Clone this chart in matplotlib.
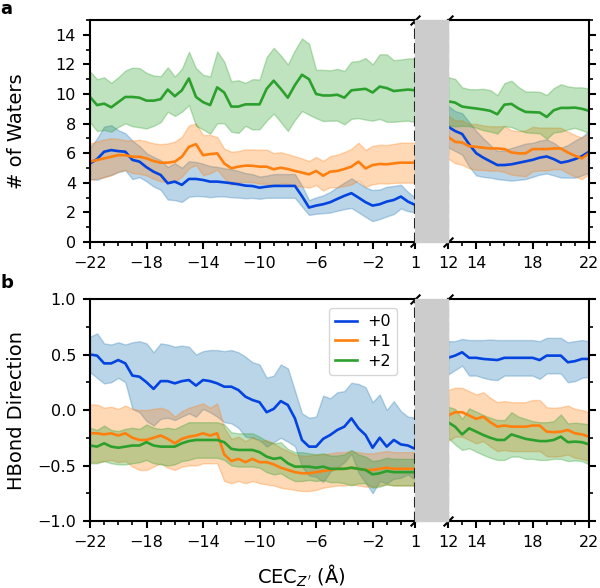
import matplotlib
matplotlib.use("Agg")
import matplotlib.pyplot as plt
import numpy as np
from matplotlib.patches import Rectangle
from matplotlib.ticker import MultipleLocator

# x positions (0.5 A spacing)
xLeft = np.arange(-22, 1.01, 0.5)
xRight = np.arange(12, 22.01, 0.5)
labels = ["+0", "+1", "+2"]

# panel a: number of waters (mean, sd)
watersLeftMean = [
    [5.31, 5.6, 6.1, 6.21, 6.14, 6.1, 5.55, 5.43, 5.05, 4.75, 4.53, 3.97, 4.08, 3.86, 4.26, 4.26,
     4.19, 4.08, 4.08, 4.03, 3.97, 3.9, 3.81, 3.78, 3.67, 3.74, 3.79, 3.79, 3.79, 3.79, 3.1, 2.33,
     2.46, 2.55, 2.69, 2.91, 3.12, 3.3, 3.0, 2.69, 2.46, 2.55, 2.73, 2.84, 3.07, 2.73, 2.51],
    [5.43, 5.54, 5.65, 5.76, 5.87, 5.87, 5.76, 5.76, 5.65, 5.47, 5.36, 5.36, 5.43, 5.76, 6.43, 6.61,
     5.87, 5.94, 5.99, 5.31, 4.98, 5.09, 5.16, 5.15, 5.09, 5.09, 4.91, 5.02, 4.93, 4.8, 4.69, 4.57,
     4.8, 4.48, 4.75, 4.8, 4.93, 5.09, 5.43, 4.97, 5.2, 5.27, 5.25, 5.31, 5.36, 5.36, 5.36],
    [9.8, 9.25, 9.35, 9.1, 9.45, 9.8, 9.8, 9.75, 9.55, 9.55, 9.65, 10.3, 9.85, 10.25, 11.05, 9.8,
     9.45, 9.25, 10.45, 10.1, 9.15, 9.15, 9.3, 9.3, 9.3, 10.35, 10.9, 10.35, 9.75, 10.6, 11.3, 11.0,
     10.0, 9.9, 9.9, 9.95, 9.75, 10.25, 10.3, 10.35, 10.1, 10.5, 10.4, 10.2, 10.25, 10.3, 10.25],
]
watersLeftSd = [
    [1.05, 1.4, 1.7, 1.68, 1.42, 1.25, 1.3, 1.05, 0.95, 1.0, 1.0, 1.1, 1.25, 1.15, 1.2, 1.15,
     1.1, 1.05, 1.0, 0.95, 0.95, 0.9, 0.85, 0.8, 0.75, 0.75, 0.8, 0.8, 0.8, 0.8, 0.7, 0.5,
     0.55, 0.6, 0.7, 0.8, 0.9, 1.0, 1.0, 1.0, 1.05, 1.0, 1.0, 0.95, 0.8, 0.65, 0.5],
    [1.23, 1.25, 1.28, 1.25, 1.1, 1.0, 1.1, 1.15, 1.15, 1.2, 1.25, 1.3, 1.35, 1.35, 1.45, 1.4,
     1.35, 1.3, 1.1, 1.0, 1.12, 1.05, 1.1, 1.1, 1.15, 1.15, 1.1, 1.05, 1.0, 1.0, 0.95, 0.9,
     0.95, 1.0, 1.05, 1.1, 1.15, 1.2, 1.28, 1.25, 1.3, 1.3, 1.3, 1.32, 1.35, 1.35, 1.35],
    [1.72, 1.75, 1.78, 1.65, 1.68, 1.78, 1.98, 2.0, 1.88, 1.7, 1.55, 1.5, 1.33, 1.45, 1.8, 1.95,
     1.85, 1.93, 2.43, 2.08, 1.7, 1.78, 1.45, 1.7, 1.68, 2.15, 2.22, 2.25, 2.25, 2.35, 2.45, 2.4,
     1.63, 1.73, 1.7, 1.75, 1.8, 1.93, 1.93, 2.08, 1.9, 2.18, 2.28, 2.08, 2.08, 2.1, 2.15],
]
watersRightMean = [
    [7.8, 7.5, 7.3, 6.6, 6.0, 5.7, 5.45, 5.2, 5.2, 5.25, 5.35, 5.45, 5.55, 5.7, 5.78, 5.6, 5.36,
     5.45, 5.6, 5.8, 6.1],
    [7.11, 6.77, 6.72, 6.48, 6.43, 6.37, 6.32, 6.32, 6.28, 6.05, 5.99, 5.99, 6.28, 6.28, 6.28,
     6.32, 6.32, 6.05, 5.83, 5.65, 5.99],
    [9.51, 9.42, 9.15, 9.08, 9.02, 8.95, 8.86, 8.63, 9.28, 9.33, 9.02, 8.79, 8.77, 8.75, 8.45,
     8.9, 9.06, 9.06, 9.08, 9.0, 8.86],
]
watersRightSd = [
    [1.4, 1.35, 1.4, 1.5, 1.5, 1.3, 1.1, 0.95, 1.0, 1.1, 1.15, 1.2, 1.15, 1.15, 1.15, 1.1, 1.0,
     1.1, 1.25, 1.3, 1.4],
    [1.45, 1.45, 1.5, 1.5, 1.55, 1.5, 1.5, 1.5, 1.55, 1.5, 1.5, 1.55, 1.5, 1.45, 1.45, 1.4, 1.4,
     1.4, 1.4, 1.4, 1.38],
    [1.63, 1.6, 1.3, 1.25, 1.3, 1.4, 1.4, 1.3, 1.45, 1.57, 1.45, 1.38, 1.4, 1.4, 1.48, 1.5, 1.6,
     1.45, 1.37, 1.45, 1.5],
]

# panel b: hbond direction (mean, sd)
hbondLeftMean = [
    [0.5, 0.49, 0.42, 0.42, 0.45, 0.42, 0.31, 0.3, 0.25, 0.19, 0.26, 0.26, 0.24, 0.26, 0.27, 0.22,
     0.27, 0.26, 0.24, 0.21, 0.21, 0.18, 0.12, 0.09, 0.07, -0.02, 0.01, 0.08, 0.045, -0.075, -0.27,
     -0.33, -0.33, -0.26, -0.225, -0.18, -0.15, -0.075, -0.165, -0.225, -0.34, -0.25, -0.33, -0.27,
     -0.31, -0.32, -0.35],
    [-0.21, -0.21, -0.22, -0.21, -0.23, -0.21, -0.25, -0.27, -0.27, -0.25, -0.23, -0.26, -0.3,
     -0.26, -0.24, -0.23, -0.21, -0.23, -0.21, -0.4, -0.46, -0.44, -0.47, -0.44, -0.47, -0.47,
     -0.49, -0.52, -0.54, -0.56, -0.57, -0.57, -0.56, -0.55, -0.54, -0.53, -0.53, -0.52, -0.53,
     -0.54, -0.54, -0.53, -0.52, -0.53, -0.53, -0.53, -0.53],
    [-0.32, -0.33, -0.3, -0.33, -0.34, -0.33, -0.32, -0.32, -0.29, -0.32, -0.33, -0.33, -0.33,
     -0.3, -0.28, -0.27, -0.27, -0.27, -0.27, -0.29, -0.35, -0.36, -0.36, -0.36, -0.38, -0.42,
     -0.44, -0.43, -0.48, -0.51, -0.51, -0.51, -0.52, -0.51, -0.53, -0.53, -0.53, -0.52, -0.53,
     -0.54, -0.58, -0.57, -0.55, -0.56, -0.56, -0.56, -0.56],
]
hbondLeftSd = [
    [0.16, 0.2, 0.18, 0.17, 0.16, 0.17, 0.3, 0.32, 0.35, 0.33, 0.34, 0.33, 0.33, 0.32, 0.3, 0.28,
     0.26, 0.28, 0.3, 0.32, 0.33, 0.34, 0.36, 0.34, 0.34, 0.31, 0.3, 0.33, 0.33, 0.25, 0.24, 0.26,
     0.27, 0.39, 0.33, 0.34, 0.32, 0.32, 0.4, 0.43, 0.41, 0.39, 0.33, 0.35, 0.3, 0.26, 0.28],
    [0.26, 0.26, 0.24, 0.24, 0.24, 0.25, 0.26, 0.27, 0.27, 0.26, 0.25, 0.26, 0.24, 0.25, 0.26,
     0.27, 0.27, 0.25, 0.27, 0.24, 0.2, 0.2, 0.19, 0.2, 0.19, 0.2, 0.19, 0.18, 0.17, 0.16, 0.16,
     0.16, 0.16, 0.15, 0.15, 0.15, 0.15, 0.15, 0.15, 0.15, 0.15, 0.15, 0.15, 0.15, 0.15, 0.15, 0.15],
    [0.16, 0.15, 0.16, 0.15, 0.15, 0.16, 0.16, 0.15, 0.16, 0.16, 0.16, 0.17, 0.16, 0.16, 0.17,
     0.16, 0.16, 0.16, 0.16, 0.16, 0.15, 0.15, 0.15, 0.15, 0.14, 0.14, 0.14, 0.14, 0.13, 0.13,
     0.13, 0.12, 0.12, 0.12, 0.12, 0.12, 0.13, 0.16, 0.13, 0.12, 0.12, 0.12, 0.12, 0.12, 0.12,
     0.12, 0.12],
]
hbondRightMean = [
    [0.47, 0.49, 0.52, 0.47, 0.47, 0.46, 0.455, 0.45, 0.47, 0.47, 0.47, 0.47, 0.47, 0.45, 0.49,
     0.49, 0.49, 0.43, 0.44, 0.46, 0.46],
    [-0.05, -0.02, -0.02, -0.05, -0.08, -0.06, -0.11, -0.15, -0.14, -0.15, -0.15, -0.15, -0.14,
     -0.14, -0.195, -0.2, -0.195, -0.18, -0.21, -0.22, -0.24],
    [-0.11, -0.15, -0.22, -0.165, -0.195, -0.225, -0.25, -0.27, -0.27, -0.22, -0.24, -0.26, -0.27,
     -0.28, -0.28, -0.27, -0.24, -0.29, -0.285, -0.29, -0.31],
]
hbondRightSd = [
    [0.15, 0.13, 0.12, 0.16, 0.16, 0.17, 0.18, 0.18, 0.16, 0.16, 0.16, 0.16, 0.16, 0.17, 0.16,
     0.16, 0.16, 0.18, 0.18, 0.17, 0.16],
    [0.23, 0.22, 0.22, 0.22, 0.22, 0.22, 0.22, 0.22, 0.22, 0.22, 0.22, 0.22, 0.23, 0.23, 0.22,
     0.22, 0.22, 0.22, 0.22, 0.22, 0.22],
    [0.14, 0.16, 0.14, 0.18, 0.18, 0.18, 0.18, 0.18, 0.18, 0.2, 0.18, 0.18, 0.17, 0.17, 0.17,
     0.17, 0.2, 0.17, 0.17, 0.17, 0.18],
]

lineColors = ["#0343df", "#ff7f0e", "#2ca02c"]
bandColors = ["#1f77b4", "#ff7f0e", "#2ca02c"]

plt.rcParams["font.size"] = 11.5
plt.rcParams["axes.linewidth"] = 1.5
plt.rcParams["xtick.major.width"] = 1.5
plt.rcParams["ytick.major.width"] = 1.5
plt.rcParams["xtick.minor.width"] = 1.2
plt.rcParams["ytick.minor.width"] = 1.2
plt.rcParams["xtick.major.size"] = 5
plt.rcParams["ytick.major.size"] = 5
plt.rcParams["xtick.minor.size"] = 3
plt.rcParams["ytick.minor.size"] = 3
plt.rcParams["xtick.major.pad"] = 5
plt.rcParams["ytick.major.pad"] = 5

fig = plt.figure(figsize=(6, 5.88), dpi=100)

W, H = 600, 588
def axRect(x0, x1, y0, y1):
    return [x0 / W, 1 - y1 / H, (x1 - x0) / W, (y1 - y0) / H]

rows = [(20, 242), (299, 521)]
leftX = (90, 415)
rightX = (448, 589)


def drawSeries(ax, x, means, sds):
    for i in range(3):
        m = np.array(means[i])
        s = np.array(sds[i])
        ax.plot(x, m, color=lineColors[i], lw=1.9, label=labels[i])
        ax.fill_between(x, m - s, m + s, color=bandColors[i], alpha=0.3, lw=1)


def styleBreak(axL, axR):
    axL.spines["right"].set_linestyle((0, (4, 3)))
    axR.spines["left"].set_linestyle((0, (4, 3)))
    axR.yaxis.tick_right()
    axR.tick_params(axis="y", which="both", right=True, left=False, labelright=False)
    kw = dict(marker=[(-1, -1), (1, 1)], markersize=7, linestyle="none",
              color="k", mec="k", mew=1.5, clip_on=False)
    axL.plot([1, 1], [0, 1], transform=axL.transAxes, **kw)
    axR.plot([0, 0], [0, 1], transform=axR.transAxes, **kw)
    axL.set_xlim(-22, 1)
    axR.set_xlim(12, 22)
    axL.set_xticks([-22, -18, -14, -10, -6, -2, 1])
    axL.xaxis.set_minor_locator(MultipleLocator(1))
    axR.set_xticks([12, 14, 18, 22])
    axR.xaxis.set_minor_locator(MultipleLocator(1))
    # gray gap between the two halves
    p0 = axL.get_position()
    p1 = axR.get_position()
    fig.patches.append(Rectangle((p0.x1, p0.y0), p1.x0 - p0.x1, p0.height,
                                 transform=fig.transFigure, color="#cccccc", zorder=0))


# panel a
axA = fig.add_axes(axRect(leftX[0], leftX[1], *rows[0]))
axA2 = fig.add_axes(axRect(rightX[0], rightX[1], *rows[0]))
drawSeries(axA, xLeft, watersLeftMean, watersLeftSd)
drawSeries(axA2, xRight, watersRightMean, watersRightSd)
for ax in (axA, axA2):
    ax.set_ylim(0, 15)
    ax.set_yticks(np.arange(0, 15, 2))
    ax.yaxis.set_minor_locator(MultipleLocator(1))
styleBreak(axA, axA2)
axA.set_ylabel("# of Waters", fontsize=14)

# panel b
axB = fig.add_axes(axRect(leftX[0], leftX[1], *rows[1]))
axB2 = fig.add_axes(axRect(rightX[0], rightX[1], *rows[1]))
drawSeries(axB, xLeft, hbondLeftMean, hbondLeftSd)
drawSeries(axB2, xRight, hbondRightMean, hbondRightSd)
for ax in (axB, axB2):
    ax.set_ylim(-1, 1)
    ax.set_yticks([-1.0, -0.5, 0.0, 0.5, 1.0])
    ax.yaxis.set_minor_locator(MultipleLocator(0.25))
styleBreak(axB, axB2)
axB.set_ylabel("HBond Direction", fontsize=14)
axB.legend(loc="upper right", fontsize=11.5, bbox_to_anchor=(0.955, 0.975),
           handlelength=1.4, handletextpad=0.6, borderaxespad=0.2,
           borderpad=0.4, labelspacing=0.3)

for ax in (axA, axB):
    ax.yaxis.set_label_coords(-0.197, 0.5)

fig.text(0 / W, 1 - 9 / H, "a", fontsize=13, fontweight="bold", va="center", ha="left")
fig.text(0 / W, 1 - 283 / H, "b", fontsize=13, fontweight="bold", va="center", ha="left")
fig.text(301 / W, 1 - 576 / H, r"CEC$_{Z'}$ (Å)", fontsize=14, ha="center", va="center")

fig.savefig("out.png", dpi=100)
